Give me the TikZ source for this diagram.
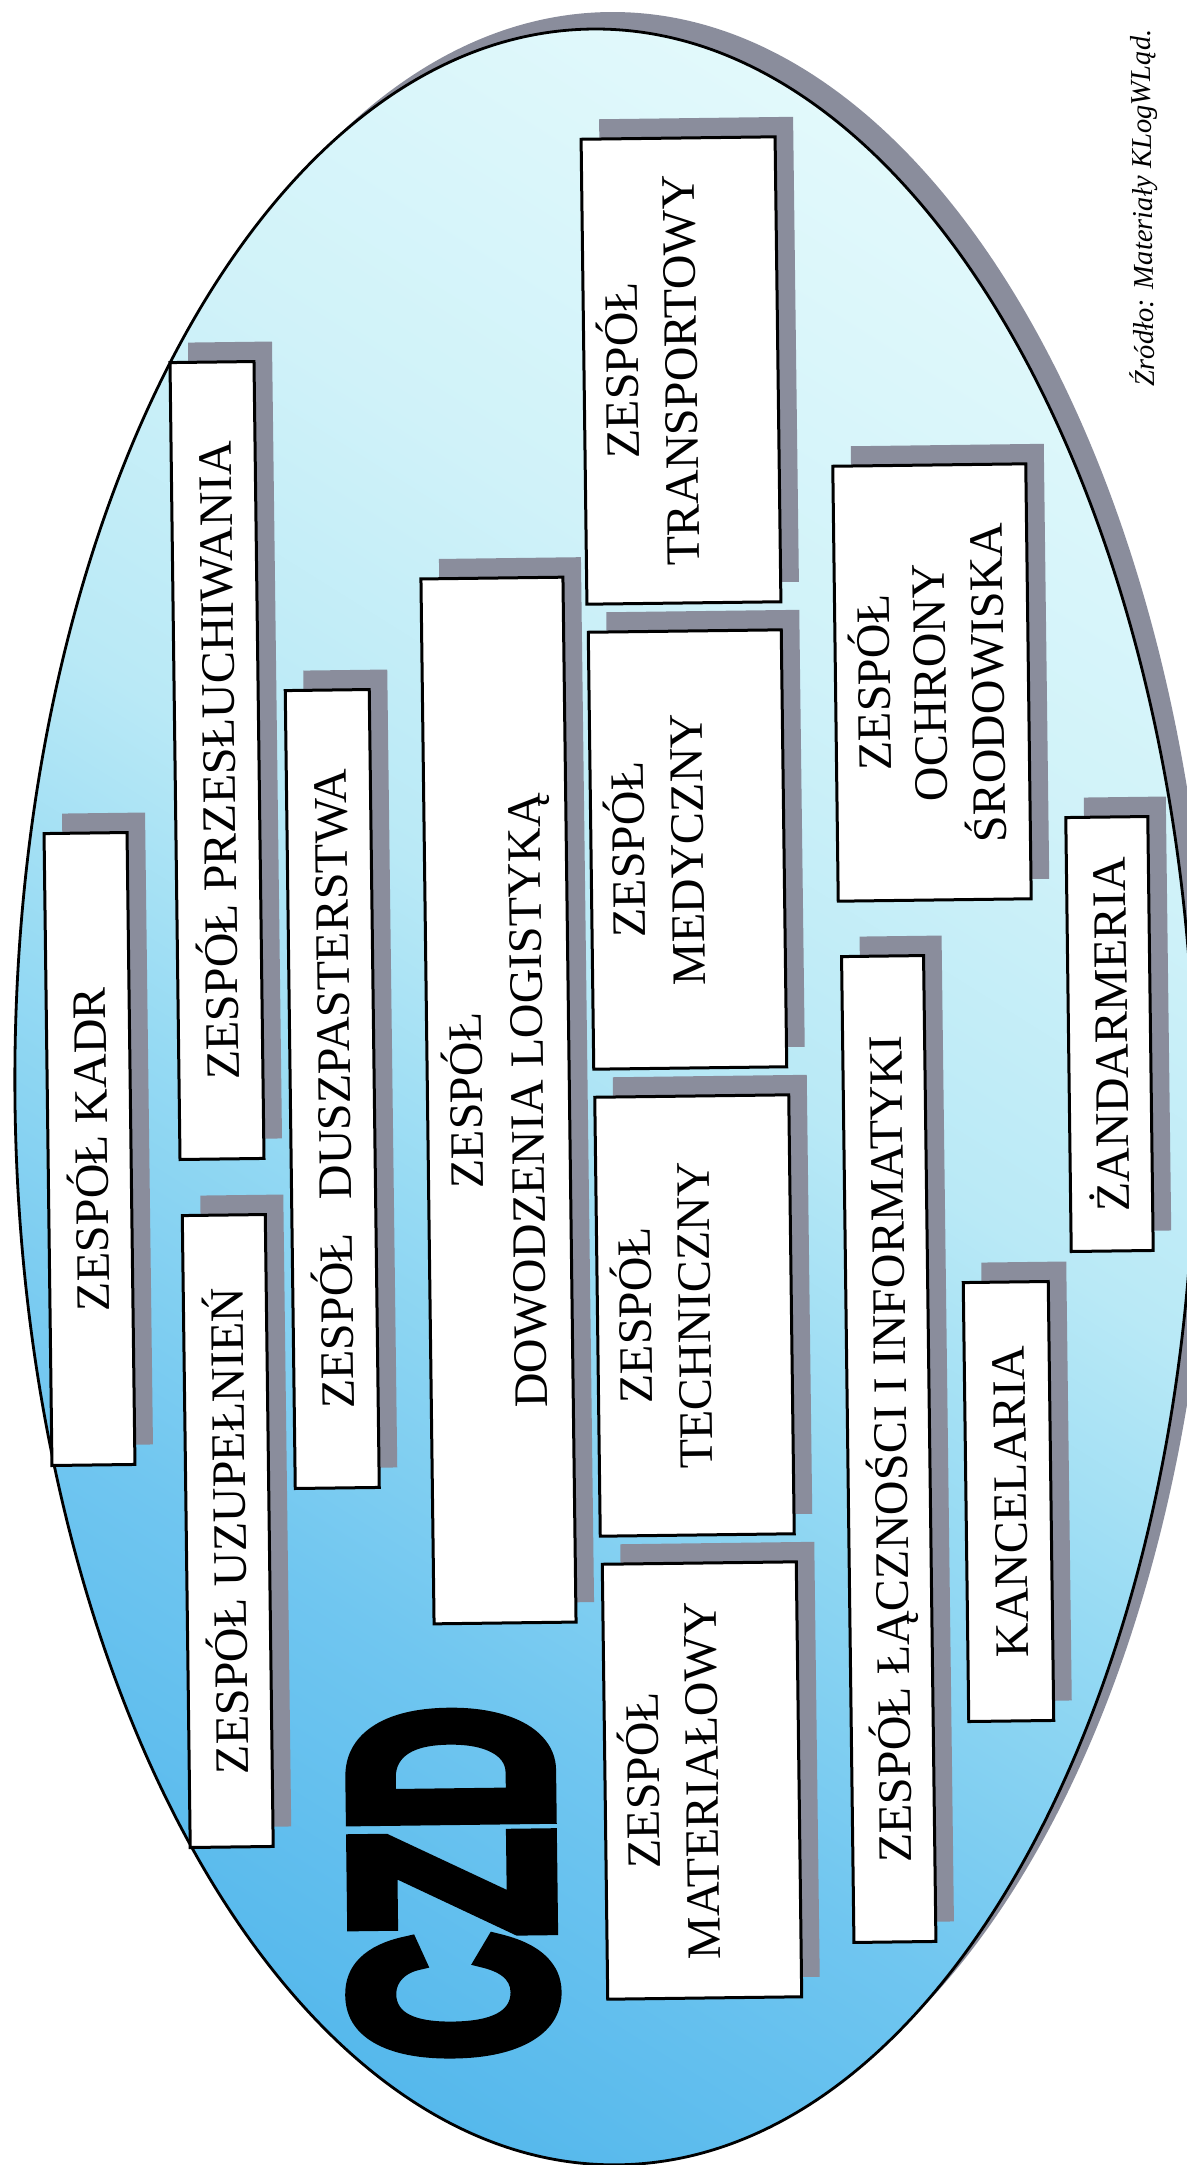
\documentclass[tikz,border=0pt]{standalone}
\usepackage{fontspec}
\setmainfont{Liberation Serif}
\newfontfamily\czdfont{Liberation Sans}[BoldFeatures={FakeBold=7}]
\usepackage{graphicx}
\definecolor{shadowgray}{RGB}{138,141,156}
\definecolor{czA}{RGB}{85,184,236}
\definecolor{czB}{RGB}{112,198,240}
\definecolor{czC}{RGB}{150,218,243}
\definecolor{czD}{RGB}{185,233,246}
\definecolor{czE}{RGB}{208,242,249}
\definecolor{czF}{RGB}{226,249,251}
\pgfdeclareverticalshading{czshade}{100bp}{color(0bp)=(czA); color(25bp)=(czA); color(35bp)=(czB);
  color(45bp)=(czC); color(52.5bp)=(czD); color(62.5bp)=(czE); color(75bp)=(czF); color(100bp)=(czF)}
\tikzset{
  zframe/.style={draw=black, line width=1.5pt, fill=white, rotate=90.72, inner sep=0pt, outer sep=0pt},
  zshadow/.style={fill=shadowgray, rotate=90.72, inner sep=0pt, outer sep=0pt},
  zlabel/.style={rotate=90.72, anchor=base, inner sep=0pt, text height=0.68em, text depth=0pt,
                 font=\fontsize{24pt}{28pt}\selectfont},
  ellipseline/.style={draw=black, line width=1.4pt},
}
\newcommand\zbox[5]{%
  \node[zshadow, minimum width=#4*0.5pt, minimum height=#5*0.5pt] (#1-sh) at (#2+18,#3-20) {};
  \node[zframe, minimum width=#4*0.5pt, minimum height=#5*0.5pt] (#1) at (#2,#3) {};
}
\begin{document}
\begin{tikzpicture}[x=0.5pt, y=-0.5pt]
\fill[white] (0,0) rectangle (1187,2165);
\useasboundingbox (0,0) rectangle (1187,2165);
\coordinate (ec) at (605,1097);
\coordinate (es) at (622,1080);
% ellipse shadow
\fill[shadowgray, rotate around={0.72:(es)}] (es) ellipse [x radius=590, y radius=1068];
% ellipse gradient fill
\begin{scope}
  \clip[rotate around={0.72:(ec)}] (ec) ellipse [x radius=590, y radius=1068];
  \begin{scope}[transform canvas={rotate around={-32:(ec)}}]
    \shade[shading=czshade] (605-1300,1097-958) rectangle (605+1300,1097+958);
  \end{scope}
\end{scope}
\draw[ellipseline, rotate around={0.72:(ec)}] (ec) ellipse [x radius=590, y radius=1068];

% boxes
\zbox{kadr}{89.5}{1149}{632}{83}
\zbox{przes}{217}{760.5}{797}{84}
\zbox{uzup}{227.75}{1531}{632}{83}
\zbox{dusz}{332.25}{1089}{798}{84}
\zbox{dow}{498.5}{1100.5}{1045}{142}
\zbox{trans}{681}{370.5}{465}{194}
\zbox{med}{687.5}{849.5}{437}{193}
\zbox{tech}{694.5}{1315.5}{439}{194}
\zbox{mat}{702}{1780.5}{435}{194}
\zbox{ochr}{932}{682.5}{435}{193}
\zbox{lacz}{888.75}{1449}{986}{82}
\zbox{kanc}{1008.5}{1501.5}{439}{85}
\zbox{zand}{1109.5}{1034}{434}{82}

% labels
\node[zlabel] (kadr-t) at (107.5,1149) {ZESPÓŁ KADR};
\node[zlabel] (przes-t) at (235,760.5) {ZESPÓŁ PRZESŁUCHIWANIA};
\node[zlabel] (uzup-t) at (245.75,1531) {ZESPÓŁ UZUPEŁNIEŃ};
\node[zlabel] (dusz-t) at (350.25,1089) {ZESPÓŁ\hspace{0.69em}DUSZPASTERSTWA};
\node[zlabel] (dow-t1) at (482.5,1100.5) {ZESPÓŁ};
\node[zlabel] (dow-t2) at (543.5,1100.5) {DOWODZENIA LOGISTYKĄ};
\node[zlabel] (trans-t1) at (638,370.5) {ZESPÓŁ};
\node[zlabel] (trans-t2) at (697,370.5) {TRANSPORTOWY};
\node[zlabel] (med-t1) at (644.5,849.5) {ZESPÓŁ};
\node[zlabel] (med-t2) at (703.5,849.5) {MEDYCZNY};
\node[zlabel] (tech-t1) at (651.5,1315.5) {ZESPÓŁ};
\node[zlabel] (tech-t2) at (710.5,1315.5) {TECHNICZNY};
\node[zlabel] (mat-t1) at (659,1780.5) {ZESPÓŁ};
\node[zlabel] (mat-t2) at (718,1780.5) {MATERIAŁOWY};
\node[zlabel] (ochr-t1) at (890,682.5) {ZESPÓŁ};
\node[zlabel] (ochr-t2) at (946,682.5) {OCHRONY};
\node[zlabel] (ochr-t3) at (1004,682.5) {ŚRODOWISKA};
\node[zlabel] (lacz-t) at (906.75,1449) {ZESPÓŁ ŁĄCZNOŚCI I INFORMATYKI};
\node[zlabel] (kanc-t) at (1026.5,1501.5) {KANCELARIA};
\node[zlabel] (zand-t) at (1127.5,1034) {ŻANDARMERIA};

% big title
\node[rotate=90.72, inner sep=0pt] (czd) at (452,1883)
  {\resizebox{176.5pt}{97pt}{\czdfont\bfseries CZD}};
% source
\node[rotate=90.72, inner sep=0pt] (src) at (1143,208)
  {\resizebox{178.5pt}{!}{\itshape Źródło: Materiały KLogWLąd.}};
\end{tikzpicture}
\end{document}
